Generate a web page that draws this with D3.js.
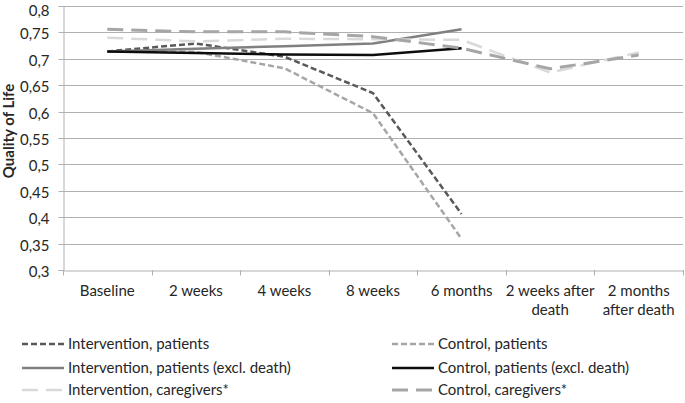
<!DOCTYPE html>
<html>
<head>
<meta charset="utf-8">
<script src="https://cdn.jsdelivr.net/npm/d3@7"></script>
<style>
  html, body { margin: 0; padding: 0; background: #fff; }
  svg { display: block; }
  text { font-family: Lato, "Open Sans", sans-serif; fill: #262626; }
</style>
</head>
<body>
<svg id="chart" width="685" height="403"></svg>
<script>
// ---- data ----
const categories = ["Baseline", "2 weeks", "4 weeks", "8 weeks", "6 months", "2 weeks after death", "2 months after death"];
const categoryLabelLines = [["Baseline"], ["2 weeks"], ["4 weeks"], ["8 weeks"], ["6 months"], ["2 weeks after", "death"], ["2 months", "after death"]];
const yTicks = [0.3, 0.35, 0.4, 0.45, 0.5, 0.55, 0.6, 0.65, 0.7, 0.75, 0.8];

const interventionPatients      = [0.714, 0.729, 0.704, 0.635, 0.406, null, null];
const controlPatients           = [0.714, 0.713, 0.682, 0.597, 0.359, null, null];
const interventionPatientsExcl  = [0.714, 0.719, 0.724, 0.729, 0.756, null, null];
const controlPatientsExcl       = [0.714, 0.711, 0.708, 0.707, 0.720, null, null];
const interventionCaregivers    = [0.740, 0.733, 0.738, 0.737, 0.736, 0.674, 0.712];
const controlCaregivers         = [0.756, 0.751, 0.751, 0.742, 0.720, 0.681, 0.707];

const seriesNames = ["Intervention, patients", "Control, patients",
  "Intervention, patients (excl. death)", "Control, patients (excl. death)",
  "Intervention, caregivers*", "Control, caregivers*"];
const seriesValues = [interventionPatients, controlPatients, interventionPatientsExcl,
  controlPatientsExcl, interventionCaregivers, controlCaregivers];

// ---- styles ----
const styles = [
  {color: "#595959", dash: "6,3", width: 2.5},
  {color: "#a6a6a6", dash: "6,3", width: 2.5},
  {color: "#808080", dash: null, width: 2.5},
  {color: "#0d0d0d", dash: null, width: 2.5},
  {color: "#d9d9d9", dash: "16,8", width: 2.5},
  {color: "#a6a6a6", dash: "16,8", width: 3}
];

const FS = "15px";
const svg = d3.select("#chart");
const plotLeft = 63, plotRight = 683, plotTop = 6, plotBottom = 270;

const x = d3.scaleBand().domain(categories).range([plotLeft, plotRight]).padding(0);
const y = d3.scaleLinear().domain([0.3, 0.8]).range([plotBottom, plotTop]);
const fmt = d => String(+d.toFixed(2)).replace(".", ",");

// gridlines
svg.append("g").selectAll("line")
  .data(yTicks.filter(d => d > 0.3))
  .join("line")
  .attr("x1", plotLeft).attr("x2", plotRight)
  .attr("y1", d => Math.round(y(d)) + 0.5).attr("y2", d => Math.round(y(d)) + 0.5)
  .attr("stroke", "#b0b0b0").attr("stroke-width", 1);

// y axis
const yAxis = svg.append("g")
  .attr("transform", `translate(${plotLeft + 0.5},0)`)
  .call(d3.axisLeft(y).tickValues(yTicks).tickFormat(fmt).tickSize(5).tickPadding(9));
yAxis.select(".domain").attr("stroke", "#b0b0b0");
yAxis.selectAll(".tick line").attr("stroke", "#b0b0b0");
yAxis.selectAll(".tick").attr("transform", d => `translate(0,${Math.round(y(d)) + 0.5})`);
yAxis.selectAll("text").style("font-size", FS).attr("fill", "#262626")
  .attr("dy", d => d >= 0.8 ? "0.62em" : "0.42em")
  .style("font-family", "Lato, 'Open Sans', sans-serif");

// x axis
const xAxis = svg.append("g")
  .attr("transform", `translate(0,${plotBottom + 0.5})`)
  .call(d3.axisBottom(x).tickSize(0).tickFormat(""));
xAxis.select(".domain").attr("stroke", "#b0b0b0");
// tick marks at category boundaries
const bounds = categories.map(c => x(c)).concat([plotRight]);
svg.append("g").selectAll("line").data(bounds).join("line")
  .attr("x1", d => Math.round(d) + 0.5).attr("x2", d => Math.round(d) + 0.5)
  .attr("y1", plotBottom).attr("y2", plotBottom + 5.5)
  .attr("stroke", "#b0b0b0");

// x labels
const xl = svg.append("g");
categories.forEach((c, i) => {
  const t = xl.append("text")
    .attr("x", x(c) + x.bandwidth() / 2)
    .attr("y", 296)
    .attr("text-anchor", "middle")
    .style("font-size", FS);
  categoryLabelLines[i].forEach((ln, j) => {
    t.append("tspan").attr("x", x(c) + x.bandwidth() / 2).attr("dy", j === 0 ? 0 : 19).text(ln);
  });
});

// y title
svg.append("text")
  .attr("transform", `translate(14,131) rotate(-90)`)
  .attr("text-anchor", "middle")
  .style("font-size", FS).style("font-weight", "bold")
  .text("Quality of Life");

// lines
const line = d3.line()
  .defined(d => d.v != null)
  .x(d => x(d.c) + x.bandwidth() / 2)
  .y(d => y(d.v));

seriesValues.forEach((vals, i) => {
  const pts = vals.map((v, k) => ({c: categories[k], v}));
  svg.append("path")
    .datum(pts)
    .attr("d", line)
    .attr("fill", "none")
    .attr("stroke", styles[i].color)
    .attr("stroke-width", styles[i].width)
    .attr("stroke-dasharray", styles[i].dash)
    .attr("stroke-linejoin", "round");
});

// legend
const legendPos = [
  {x: 22, y: 344}, {x: 392, y: 344},
  {x: 22, y: 368}, {x: 392, y: 368},
  {x: 22, y: 390}, {x: 392, y: 390}
];
seriesNames.forEach((name, i) => {
  const p = legendPos[i];
  const g = svg.append("g");
  g.append("line")
    .attr("x1", p.x).attr("x2", p.x + 42)
    .attr("y1", p.y).attr("y2", p.y)
    .attr("stroke", styles[i].color)
    .attr("stroke-width", styles[i].width)
    .attr("stroke-dasharray", styles[i].dash);
  g.append("text")
    .attr("x", p.x + 46).attr("y", p.y)
    .attr("dy", "0.35em")
    .style("font-size", FS)
    .text(name);
});
</script>
</body>
</html>
